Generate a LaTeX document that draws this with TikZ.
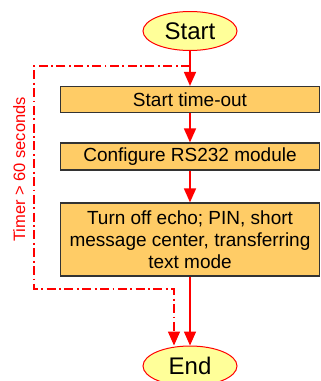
\documentclass[tikz,border=0pt]{standalone}
\usepackage{fontspec}
\setmainfont{Liberation Sans}
\usetikzlibrary{shapes.geometric,arrows.meta}
\definecolor{termfill}{HTML}{FFFF99}
\definecolor{boxfill}{HTML}{FFCC66}
\definecolor{flowred}{HTML}{FF0000}
\definecolor{boxedge}{HTML}{333333}
\tikzset{
  terminal/.style={ellipse,draw=flowred,line width=1pt,fill=termfill,minimum width=94pt,minimum height=39pt,inner sep=0pt,font=\fontsize{24}{28}\selectfont},
  procbox/.style={rectangle,draw=boxedge,line width=1.2pt,fill=boxfill,minimum width=259pt,inner sep=0pt,align=center,font=\fontsize{19}{22}\selectfont},
  flow/.style={draw=flowred,line width=1.6pt,-{Triangle[length=14pt,width=12pt]}},
  timeout/.style={draw=flowred,line width=1.6pt,dash pattern=on 9pt off 3.5pt on 1.8pt off 3.5pt,-{Triangle[length=14pt,width=12pt]}},
  timerlabel/.style={text=flowred,font=\fontsize{16.5}{19}\selectfont,inner sep=0pt,rotate=90,anchor=base}
}
\begin{document}
\begin{tikzpicture}[x=1pt,y=1pt]
\useasboundingbox (0,0) rectangle (321,-381);
\node[terminal] (start) at (190,-31) {Start};
\node[procbox,minimum height=26pt] (b1) at (190,-99.5) {Start time-out};
\node[procbox,minimum height=27pt] (b2) at (190,-156.5) {Configure RS232 module};
\node[procbox,minimum height=73pt] (b3) at (190,-239.5) {Turn off echo; PIN, short\\message center, transferring\\text mode};
\node[terminal,minimum height=40pt] (end) at (190,-366) {End};
\coordinate (j) at (190,-66);
\coordinate (lc) at (34,-289);
\coordinate (k) at (174,-289);
\node[timerlabel] (timer) at (25,-169.5) {Timer > 60 seconds};
\draw[flow] (start) -- (b1);
\draw[flow] (b1) -- (b2);
\draw[flow] (b2) -- (b3);
\draw[flow] (b3) -- (end);
\draw[timeout] (j) -| (lc) -- (k) -- (k |- end.north);
\end{tikzpicture}
\end{document}
